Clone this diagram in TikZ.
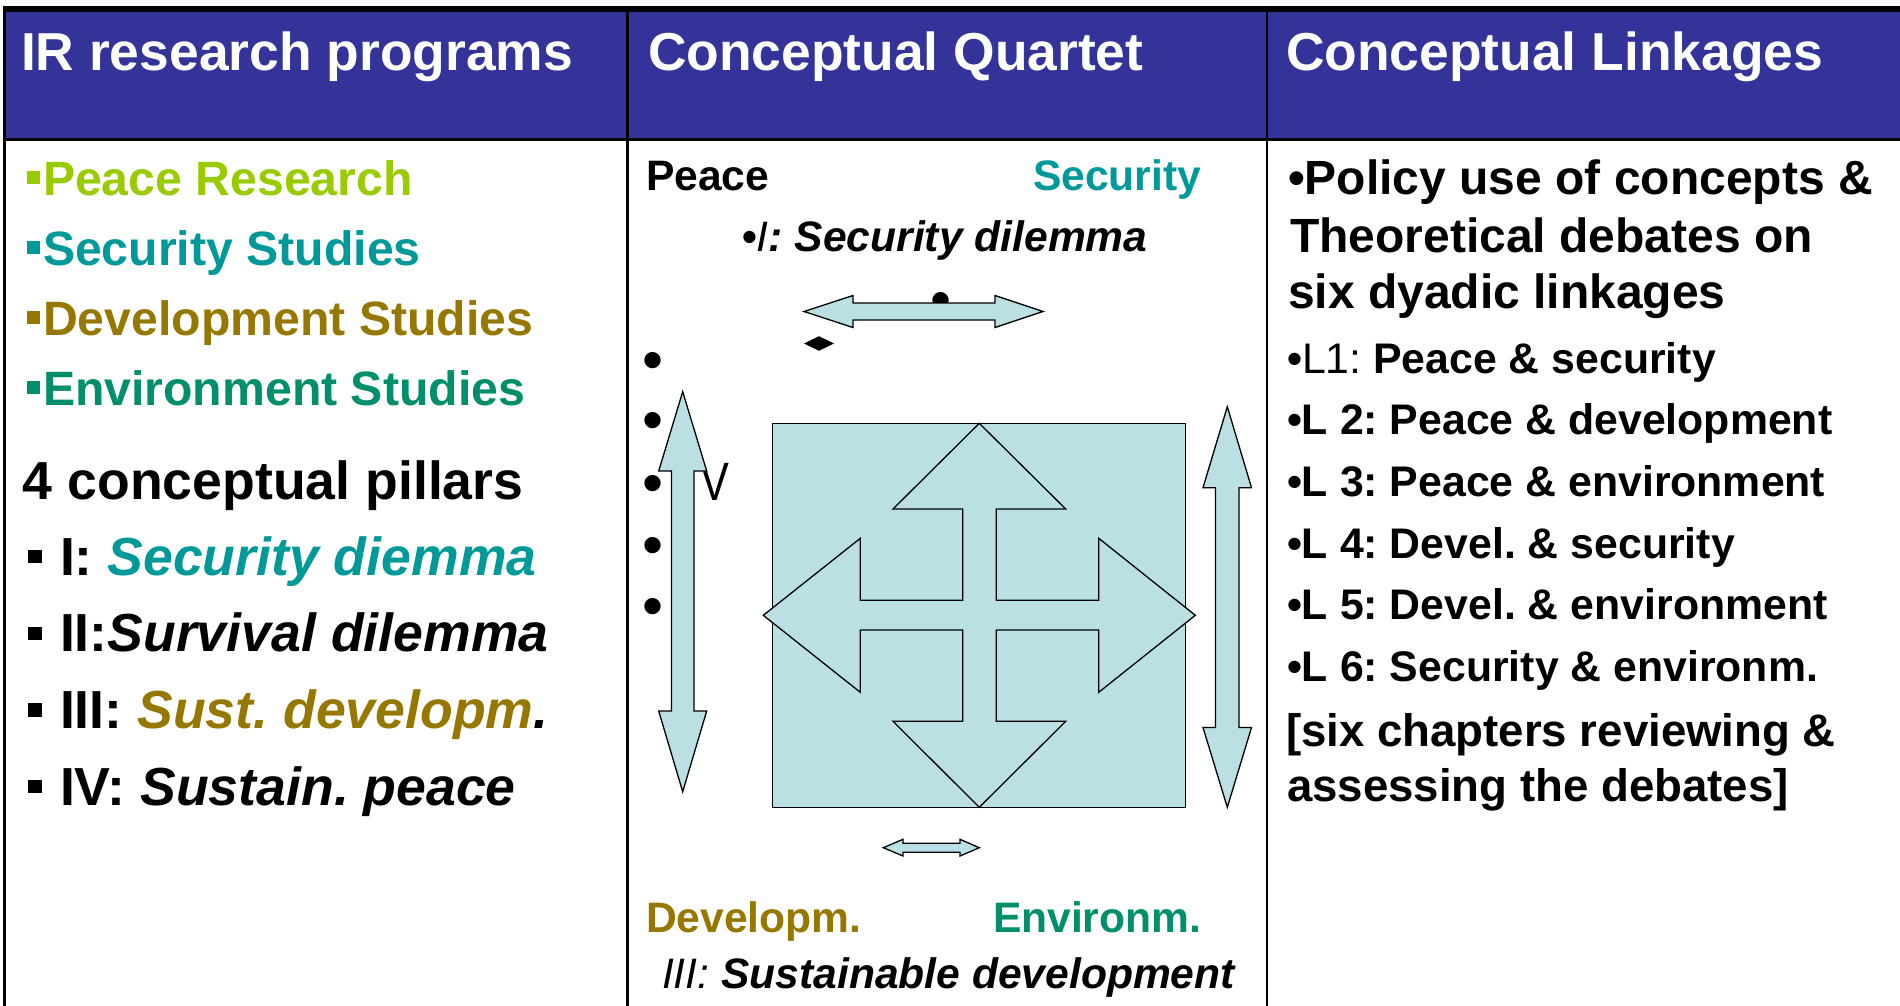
\documentclass[tikz,border=0pt]{standalone}
\usepackage{fontspec}
\setmainfont{Liberation Sans}
\definecolor{hdrblue}{RGB}{51,51,153}
\definecolor{peacec}{RGB}{153,204,0}
\definecolor{secc}{RGB}{0,153,153}
\definecolor{devc}{RGB}{150,120,0}
\definecolor{envc}{RGB}{0,143,107}
\definecolor{arrowfill}{RGB}{187,224,227}
\newcommand\sqbul[2]{\rule[#1]{#2}{#2}}
\begin{document}
\frenchspacing
\begin{tikzpicture}[x=0.5pt,y=-0.5pt,
  txt/.style={anchor=base west, inner sep=0pt, outer sep=0pt},
  hdr/.style={txt, text=white, font=\fontsize{26.7}{30}\selectfont\bfseries},
  prog/.style={txt, font=\fontsize{24.1}{28}\selectfont\bfseries},
  pillar/.style={txt, font=\fontsize{26.8}{30}\selectfont\bfseries},
  mid/.style={txt, font=\fontsize{21.3}{25}\selectfont\bfseries},
  rbig/.style={txt, font=\fontsize{24}{28}\selectfont\bfseries},
  rl/.style={txt, font=\fontsize{21.4}{25}\selectfont\bfseries},
  rbr/.style={txt, font=\fontsize{22.8}{26}\selectfont\bfseries},
  bul/.style={inner sep=0pt, outer sep=0pt, font=\fontsize{30}{32}\selectfont},
  arrowshape/.style={fill=arrowfill, draw=black, line width=0.65pt, line join=miter},
  rule/.style={draw=black}
]
\useasboundingbox (0,0) rectangle (1900,1006);
\fill[white] (0,0) rectangle (1900,1006);
% header band and table lines
\fill[hdrblue] (4,12) rectangle (1900,138);
\draw[rule, line width=3pt] (3,9) -- (1900,9);
\draw[rule, line width=1.65pt] (4.3,6) -- (4.3,1006);
\draw[rule, line width=1.6pt] (3,139.3) -- (1900,139.3);
\draw[rule, line width=1.25pt] (627.3,6) -- (627.3,1006);
\draw[rule, line width=1.25pt] (1267,6) -- (1267,1006);

% headers
\node[hdr] (h1) at (21,71) {IR research programs};
\node[hdr] (h2) at (648,71) {Conceptual Quartet};
\node[hdr] (h3) at (1286,71) {Conceptual Linkages};

% left column
\node[prog, text=peacec] (p1) at (26.7,195.8) {\sqbul{5.9pt}{6.65pt}\hspace{1.5pt}Peace Research};
\node[prog, text=secc] (p2) at (26.7,265.8) {\sqbul{5.9pt}{6.65pt}\hspace{1.5pt}Security Studies};
\node[prog, text=devc] (p3) at (26.7,335.8) {\sqbul{5.9pt}{6.65pt}\hspace{1.5pt}Development Studies};
\node[prog, text=envc] (p4) at (26.7,405.8) {\sqbul{5.9pt}{6.65pt}\hspace{1.5pt}Environment Studies};
\node[pillar] (cp) at (23,499.3) {4 conceptual pillars};
\node[pillar] (q1) at (28,575) {\sqbul{5.85pt}{6.75pt}\hspace{9.25pt}I: \textit{\color{secc}Security diemma}};
\node[pillar] (q2) at (28,651.7) {\sqbul{5.85pt}{6.75pt}\hspace{9.25pt}II:\textit{Survival dilemma}};
\node[pillar] (q3) at (28,728.3) {\sqbul{5.85pt}{6.75pt}\hspace{9.25pt}III: \textit{\color{devc}Sust. developm}\textit{.}};
\node[pillar] (q4) at (28,805) {\sqbul{5.85pt}{6.75pt}\hspace{9.25pt}IV: \textit{Sustain. peace}};

% middle column texts
\node[mid] (mpeace) at (646,190) {Peace};
\node[mid, text=secc] (msec) at (1033,190) {Security};
\node[mid] (mI) at (742,251.7) {•{\mdseries\itshape I}\textit{: Security dilemma}};
\node[mid, text=devc] (mdev) at (646,932.7) {Developm.};
\node[mid, text=envc] (menv) at (993,932.7) {Environm.};
\node[mid] (mIII) at (662,988) {{\mdseries\itshape III: }\textit{Sustainable development}};

% stray bullets and marks
\foreach \yy/\n in {360.7/1,420.7/2,483.3/3,545/4,606/5}
  \node[bul] (b\n) at (653,\yy+6) {•};
\node[bul] (topdot) at (940.7,306) {•};
\node[anchor=base west, inner sep=0pt, font=\fontsize{27}{30}\selectfont, xscale=0.8] (vv) at (700,500) {V};
\fill (804,343.5) -- (819,336.2) -- (834,343.5) -- (819,350.8) -- cycle;

% top horizontal double arrow
\filldraw[arrowshape] (804,311.5) -- (853,295.5) -- (853,303) -- (995,303) -- (995,295.5)
  -- (1043,311.5) -- (995,327.5) -- (995,320) -- (853,320) -- (853,327.5) -- cycle;

% left vertical double arrow
\filldraw[arrowshape] (682.7,391.7) -- (706.7,471) -- (694,471) -- (694,711) -- (706.7,711)
  -- (682.7,791.7) -- (658.7,711) -- (671.4,711) -- (671.4,471) -- (658.7,471) -- cycle;

% right vertical double arrow
\filldraw[arrowshape] (1227.3,406.7) -- (1251.5,487.7) -- (1239,487.7) -- (1239,727.5) -- (1251.5,727.5)
  -- (1227.3,807.3) -- (1203,727.5) -- (1215.5,727.5) -- (1215.5,487.7) -- (1203,487.7) -- cycle;

% central square
\filldraw[arrowshape] (772.7,423.3) rectangle (1185.7,807.3);

% quad arrow
\filldraw[arrowshape] (979.3,423.3) -- (1065.7,509) -- (996.3,509) -- (996.3,600.3) -- (1098.7,600.3)
  -- (1098.7,538.3) -- (1195.3,615.3) -- (1098.7,692.3) -- (1098.7,630) -- (996.3,630)
  -- (996.3,721.3) -- (1065.7,721.3) -- (979.3,807.3) -- (893,721.3) -- (962.7,721.3)
  -- (962.7,630) -- (860.3,630) -- (860.3,692.3) -- (763.3,615.3) -- (860.3,538.3)
  -- (860.3,600.3) -- (962.7,600.3) -- (962.7,509) -- (893,509) -- cycle;

% small bottom double arrow
\filldraw[arrowshape] (883.3,847.7) -- (903,839.3) -- (903,843.3) -- (960,843.3) -- (960,839.3)
  -- (979.3,847.7) -- (960,856) -- (960,852.3) -- (903,852.3) -- (903,856) -- cycle;

% right column
\node[rbig] (r1) at (1288,194.2) {•Policy use of concepts \&};
\node[rbig] (r2) at (1290,252.5) {Theoretical debates on};
\node[rbig] (r3) at (1288,308.7) {six dyadic linkages};
\node[rl] (l1) at (1287,373) {•{\mdseries L1:} Peace \& security};
\node[rl] (l2) at (1287,434.7) {•L 2: Peace \& development};
\node[rl] (l3) at (1287,496.4) {•L 3: Peace \& environment};
\node[rl] (l4) at (1287,558.1) {•L 4: Devel. \& security};
\node[rl] (l5) at (1287,619.8) {•L 5: Devel. \& environment};
\node[rl] (l6) at (1287,681.5) {•L 6: Security \& environm.};
\node[rbr] (br1) at (1286,746.7) {[six chapters reviewing \&};
\node[rbr] (br2) at (1287,801.7) {assessing the debates]};
\end{tikzpicture}
\end{document}
